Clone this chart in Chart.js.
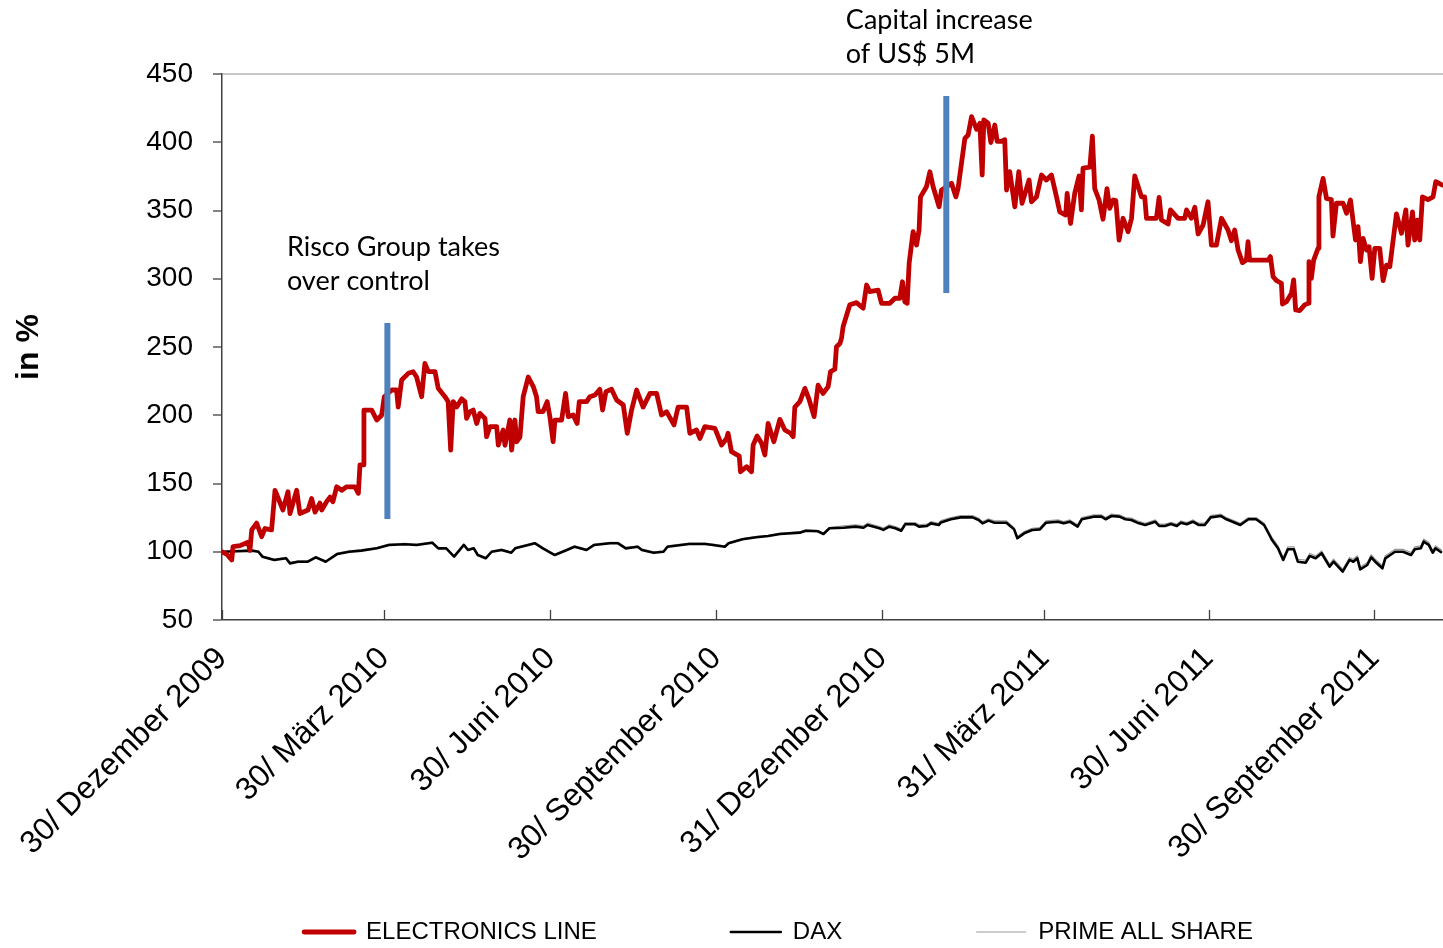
<!DOCTYPE html>
<html><head><meta charset="utf-8">
<script src="https://cdn.jsdelivr.net/npm/chart.js@4.4.1/dist/chart.umd.min.js"></script>
<style>html,body{margin:0;padding:0;background:#fff;} #wrap{position:relative;width:1443px;height:948px;}</style>
</head><body><div id="wrap"><canvas id="c"></canvas></div>
<script>
// ---- DATA (days since 30 Dec 2009, index values in %) ----
const tickDays = [0, 90, 182, 274, 366, 456, 547, 639];
const tickLabels = ['30/ Dezember 2009','30/ März 2010','30/ Juni 2010','30/ September 2010','31/ Dezember 2010','31/ März 2011','30/ Juni 2011','30/ September 2011'];

const elDays = [
0,2.8,5.4,6.1,10,14.4,15.5,16.5,19.2,22.0,
23.8,27.5,29.4,33.8,36.6,37.7,41.4,43.2,47.7,49.7,
51.6,54.3,55.3,58.0,59.9,61.5,63.6,66.4,69.1,73.7,
75.6,76.5,78.3,78.7,83.0,85.8,88.5,90.0,94.1,96.8,
97.7,99.6,103.3,106.0,107.9,110.7,112.5,114.4,118.1,119.9,
123.6,125.4,126.8,128.2,130.1,132.9,134.7,135.6,137.5,139.3,
141.2,143.0,145.8,146.7,148.6,152.3,153.2,155.9,156.9,159.6,
160.6,162.4,163.4,165.2,167.0,169.8,172.6,174.4,175.3,178.0,
180.3,181.8,183.6,184.6,188.3,190.5,192.0,194.7,196.9,198.1,
202.2,204.0,206.8,209.5,211.0,212.9,216.0,218.8,222.5,224.7,
227.1,229.9,233.5,237.3,241.0,243.7,246.5,250.6,252.9,257.6,
259.4,263.1,265.0,267.7,273.3,277.0,279.8,280.6,282.5,286.8,
287.5,290.9,293.6,294.5,296.7,299.2,301.0,302.8,306.0,309.3,
312.1,315.2,316.7,317.6,320.4,323.2,325.6,328.3,330.5,333.3,
336.1,337.4,339.8,340.7,342.6,343.5,344.4,348.1,351.8,355.5,
357.4,359.2,363.8,365.7,370.3,373.1,375.8,377.3,378.6,379.9,
381.0,383.2,385.1,386.5,387.3,390.6,392.5,394.3,397.6,398.9,
400.2,404.5,406.9,408.1,411.9,413.7,415.6,418.4,420.2,421.5,
422.4,424.8,426.3,428.5,429.8,432.2,434.0,435.0,436.8,439.6,
441.8,443.6,447.5,448.8,451.6,454.4,457.1,459.9,462.7,464.5,
467.8,468.6,470.5,472.8,475.2,476.5,477.4,481.2,482.6,483.9,
486.3,488.5,490.7,492.2,494.1,495.6,497.4,499.6,502.4,504.3,
506.1,509.8,511.6,512.6,518.1,519.6,520.9,524.6,525.9,530.1,
533.8,534.8,537.5,539.4,541.2,544.0,546.7,548.6,551.4,554.2,
557.8,559.7,561.5,563.4,565.8,568.0,568.9,569.8,580.0,581.3,
582.8,584.7,587.4,588.0,590.2,593.0,594.2,595.3,597.5,600.3,
602.2,602.7,604.0,605.3,607.7,608.2,610.5,612.4,615.1,616.0,
617.9,621.6,623.5,625.7,627.2,628.5,629.9,631.2,632.7,634.6,
636.0,637.7,639.2,641.9,643.8,645.7,647.5,651.2,654.0,656.4,
657.6,660.1,661.3,662.8,664.1,665.6,668.7,671.5,673.0,676.7];
const elValues = [
100,98,94,103.7,104.5,107,101,116,121,111,
117,116,145,130.6,144,128,145,128,130.6,139,
129,135.7,130.6,136.7,140,136.7,147.6,145,147.6,147.6,
142.8,163.6,163.6,203.8,203.8,196.5,200,213.6,218.5,218.5,
206,225.8,230.7,231.9,228,213.6,238,232,232,219.7,
213.6,210,174.5,210,206,212,210,197.7,202.6,203.8,
194,201.4,197.7,184.3,191.7,191.7,178.2,189.2,178,196.5,
174.5,196.5,180.6,184,213.6,228,221,213.6,202.6,202.6,
210,199,180.6,196.5,196.5,216,199,200.2,194,210,
210,213.6,214.8,219,203.8,217.3,219,211.2,207.5,186.8,
203.8,218.5,206,216,216,200.2,202.6,192.9,206,206,
186.8,189.2,183,191.7,190.4,178.2,183,186.8,173.3,170,
158.6,162.3,158.6,178.2,184.8,179.4,170.9,194,180.6,197,
189.2,186.8,184.3,206,210,219.7,211.2,199,222,216,
221,232,233.7,250.2,252.6,256.4,265,281,282.5,278.4,
295.4,290.5,291.7,282,282,285.7,285.7,297.8,283.2,282,
311.3,334.5,324.7,335.7,360,367.4,378.4,367.4,352.7,365,
366,370,360,366,402.8,405.3,418.7,409.5,413.9,376,
416.3,414,399.8,412.6,400.7,400.7,401.9,365,378.4,352.7,
378.4,355.3,372.3,356.4,360,376,372.3,376,360,349,
346.7,362.5,340.5,362.5,375.3,350.4,381,381.7,404.4,366,
357.7,343.6,366,351.6,357.7,357.2,328.4,344.3,334.5,344.3,
375.3,360,360,344.3,344.3,359.6,343,340.1,350.4,344.3,
344.3,350.4,344.3,352.4,332.8,339.4,356.4,324.7,324.7,344.3,
335.7,327.9,335.7,321,311.8,313.7,327.2,313.7,313.7,316.2,
301.5,298.6,296.7,281.5,283.2,289.4,299.1,277.1,276.6,280.8,
282,312.5,300.3,313.7,322.3,360,373.5,358.8,358,331.3,
355.3,355.3,348,357.7,341.8,328.4,338.2,312.5,329.6,321,
323.5,300.3,322.3,322.3,298.6,310,308.8,347.5,333.3,350.4,
324.7,349,328.4,343,328.4,360,358,360,371.1,368.6];

const idxDays = [0,16.9,20.2,22.4,29.0,35.5,37.7,42.1,47.6,52.0,57.5,64.0,70.6,77.2,85.9,92.5,101.3,107.9,116.6,119.9,124.3,128.7,134.1,136.4,139.6,141.8,146.2,149.5,155.0,160.4,162.6,173.6,177.9,184.5,188.9,195.5,202.1,206.4,215.2,219.6,223.9,230.5,232.8,239.3,244.8,247.0,259.0,267.8,272.2,278.8,280.9,288.6,296.3,302.9,309.4,320.4,323.7,330.3,333.5,336.8,344.7,351.3,355.7,357.9,364.5,366.7,370.0,373.3,376.6,378.8,384.3,386.5,390.9,393.1,397.5,398.6,404.1,409.6,416.2,419.5,421.7,425.0,428.3,434.9,439.2,441.0,444.8,449.2,453.5,456.9,463.5,466.7,470.1,474.4,476.7,483.3,487.6,489.9,493.2,497.6,500.9,504.2,507.5,511.9,517.4,519.6,522.8,526.2,529.4,531.7,534.9,538.3,541.6,544.9,548.2,553.7,556.9,560.3,564.6,569.1,573.4,577.8,582.2,585.5,588.4,591.0,594.3,596.5,600.9,603.1,606.4,609.7,614.1,616.3,621.4,625.2,627.3,629.5,631.1,635.0,637.2,639.4,643.4,645.0,650.4,654.8,659.3,661.4,664.7,666.3,669.1,671.3,672.9,676.4];
const daxValues = [100,100.8,100,96.4,94,95.2,91.5,92.7,92.7,95.9,92.7,98.4,100,100.8,102.5,105,105.5,105,106.6,102.5,102.5,96.4,105,101.3,102.5,97.6,95.2,100,101.3,99.3,102.5,106.2,102.5,97.6,100,103.7,101.3,105,106.2,106.2,102.5,103.7,101.3,99.3,100,103.7,105.7,105.7,105,103.7,106.2,109.1,110.6,111.5,113,114,115.4,115,113,117.2,117.6,118.4,117.6,119.6,117.2,116,118.4,117.2,115.4,120.1,120.1,118.4,118.9,120.8,119.6,121.5,123.8,125.2,125.2,123.3,120.8,122.8,121.3,121.3,116.4,109.9,113.5,115.9,116.4,121.3,122,120.8,122,118.4,123.8,125.7,125.7,123.8,126.2,125.7,123.8,123.3,121.3,119.6,122,118.9,118.9,120.3,118.9,121.3,120.1,122,119.6,119.6,125.2,126.2,123.8,122,119.6,123.8,123.8,119.6,108.6,102.5,94,101.8,101.8,92.7,92,96.9,95.2,98.9,89.1,92.7,85.4,94,92.7,95.2,87.1,90.3,95.9,92.7,87.9,95.2,100,100,97.6,101.8,102.5,107.4,105,99.3,102.5,99.3];
const primeValues = [100,101.4,100.6,97.0,94.6,95.8,92.1,93.3,93.3,96.5,93.3,99.0,100.6,101.4,103.1,105.6,106.1,105.6,107.2,103.1,103.1,97.0,105.6,101.9,103.1,98.2,95.8,100.6,101.9,99.9,103.1,106.8,103.1,98.2,100.6,104.3,101.9,105.6,106.8,106.8,103.1,104.3,101.9,99.9,100.6,104.3,106.3,106.3,105.6,104.3,106.8,109.7,111.2,112.1,113.6,114.6,116.0,115.6,113.6,117.8,
118.9,119.7,118.9,120.9,118.5,117.3,119.7,118.5,116.7,121.4,121.4,119.7,120.2,122.1,120.9,122.8,125.1,126.5,126.5,124.6,122.1,124.1,122.6,122.6,117.7,111.2,114.8,117.2,117.7,122.6,123.3,122.1,123.3,119.7,125.1,127.0,127.0,125.1,127.5,127.0,125.1,124.6,122.6,120.9,123.3,120.2,120.2,121.6,120.2,122.6,121.4,123.3,120.9,120.9,126.5,127.5,125.1,123.3,120.9,125.1,125.1,120.9,
110.4,104.3,95.8,103.6,103.6,94.5,93.8,98.7,97.0,100.7,90.9,94.5,87.2,95.8,94.5,97.0,88.9,92.1,97.7,94.5,89.7,97.0,101.8,101.8,99.4,103.6,104.3,109.2,106.8,101.1,104.3,101.1];

// event markers (vertical bars)
const markerDays = [91.7, 401.6];
const markerLow = [124, 289.6];
const markerHigh = [267.6, 433.9];
const annotationTexts = [['Risco Group takes', 'over control'], ['Capital increase', 'of US$ 5M']];

// ---- helpers / config ----
const toXY = (xs, ys) => xs.map((x, i) => ({x: x, y: ys[i]}));
const SANS = "'Liberation Sans', Arial, sans-serif";
const LEGEND_PAD = 134;
const LEGEND_FONT = 24;

const annotationAnchors = [
  {day: 36.0, value: 316.7, lineGap: 34},
  {day: 345.9, value: 483.0, lineGap: 34}
];

const inwardTicks = {
  id: 'inwardTicks',
  afterDraw(chart) {
    const xs = chart.scales.x, ctx = chart.ctx;
    ctx.save();
    ctx.strokeStyle = '#404040';
    ctx.lineWidth = 1.3;
    xs.ticks.forEach(t => {
      const px = Math.round(xs.getPixelForValue(t.value)) + 0.5;
      ctx.beginPath();
      ctx.moveTo(px, xs.top);
      ctx.lineTo(px, xs.top - 10);
      ctx.stroke();
    });
    ctx.restore();
  }
};

const annotations = {
  id: 'annots',
  afterDraw(chart) {
    const xs = chart.scales.x, ys = chart.scales.y, ctx = chart.ctx;
    ctx.save();
    ctx.fillStyle = '#000';
    ctx.font = '27px Lato, Carlito, sans-serif';
    ctx.textAlign = 'left';
    ctx.textBaseline = 'alphabetic';
    annotationAnchors.forEach((a, i) => {
      const px = xs.getPixelForValue(a.day);
      const py = ys.getPixelForValue(a.value);
      annotationTexts[i].forEach((line, j) => ctx.fillText(line, px, py + j * a.lineGap));
    });
    ctx.restore();
  }
};

const legendPlace = {
  id: 'legendPlace',
  afterLayout(chart) {
    const lg = chart.legend;
    if (!lg) return;
    lg.left = 114;
    lg.right = chart.width;
    lg.width = lg.right - lg.left;
    lg.top = 932 - LEGEND_FONT / 2 - LEGEND_PAD;
    lg.bottom = 948;
    lg.height = lg.bottom - lg.top;
  }
};

Chart.defaults.font.family = SANS;
Chart.defaults.color = '#000';

const markerStyle = {borderColor: '#4F81BD', backgroundColor: '#4F81BD', borderWidth: 6, pointRadius: 0, borderCapStyle: 'butt', order: 0};

new Chart(document.getElementById('c'), {
  type: 'line',
  data: {
    datasets: [
      {label: 'ELECTRONICS LINE', data: toXY(elDays, elValues), borderColor: '#C00000', backgroundColor: '#C00000', borderWidth: 4.8, pointRadius: 0, tension: 0, borderJoinStyle: 'round', borderCapStyle: 'round', order: 1},
      {label: 'DAX', data: toXY(idxDays, daxValues), borderColor: '#000000', backgroundColor: '#000000', borderWidth: 2.6, pointRadius: 0, tension: 0, borderJoinStyle: 'round', order: 2},
      {label: 'PRIME ALL SHARE', data: toXY(idxDays, primeValues), borderColor: '#999999', backgroundColor: '#999999', borderWidth: 1.2, pointRadius: 0, tension: 0, order: 3},
      Object.assign({label: '', data: [{x: markerDays[0], y: markerLow[0]}, {x: markerDays[0], y: markerHigh[0]}]}, markerStyle),
      Object.assign({label: '', data: [{x: markerDays[1], y: markerLow[1]}, {x: markerDays[1], y: markerHigh[1]}]}, markerStyle)
    ]
  },
  options: {
    responsive: true,
    maintainAspectRatio: false,
    devicePixelRatio: 1,
    animation: false,
    events: [],
    layout: {padding: {top: 74, right: 0, left: 0, bottom: 0}},
    scales: {
      x: {
        type: 'linear', min: 0, max: 677,
        afterBuildTicks(s) { s.ticks = tickDays.map(v => ({value: v})); },
        ticks: {autoSkip: false, minRotation: 45, maxRotation: 45, padding: 20, color: '#000',
                font: {family: SANS, size: 31.5}, callback: (v, i) => tickLabels[i]},
        grid: {drawOnChartArea: false, drawTicks: false},
        border: {display: true, color: '#404040', width: 1.5},
        afterFit(s) { s.height = 327; }
      },
      y: {
        min: 50, max: 450,
        ticks: {stepSize: 50, color: '#000', padding: 20, font: {family: SANS, size: 28}},
        grid: {
          drawOnChartArea: true,
          color: c => (c.tick && c.tick.value === 450) ? '#C8C8C8' : 'rgba(0,0,0,0)',
          lineWidth: c => (c.tick && c.tick.value === 450) ? 2 : 0,
          tickColor: '#404040', tickLength: 9, tickWidth: 1.3
        },
        border: {display: true, color: '#404040', width: 1.5},
        title: {display: true, text: 'in %', color: '#000', font: {family: SANS, size: 32, weight: 'bold'}, padding: {top: 10, bottom: 0}},
        afterFit(s) { s.width = 222; }
      }
    },
    plugins: {
      legend: {
        position: 'bottom',
        maxHeight: 1,
        labels: {
          boxWidth: 50, boxHeight: 0, padding: LEGEND_PAD, color: '#000',
          font: {family: SANS, size: LEGEND_FONT},
          filter: it => !!it.text
        }
      },
      tooltip: {enabled: false}
    }
  },
  plugins: [inwardTicks, annotations, legendPlace]
});
</script>
</body></html>
